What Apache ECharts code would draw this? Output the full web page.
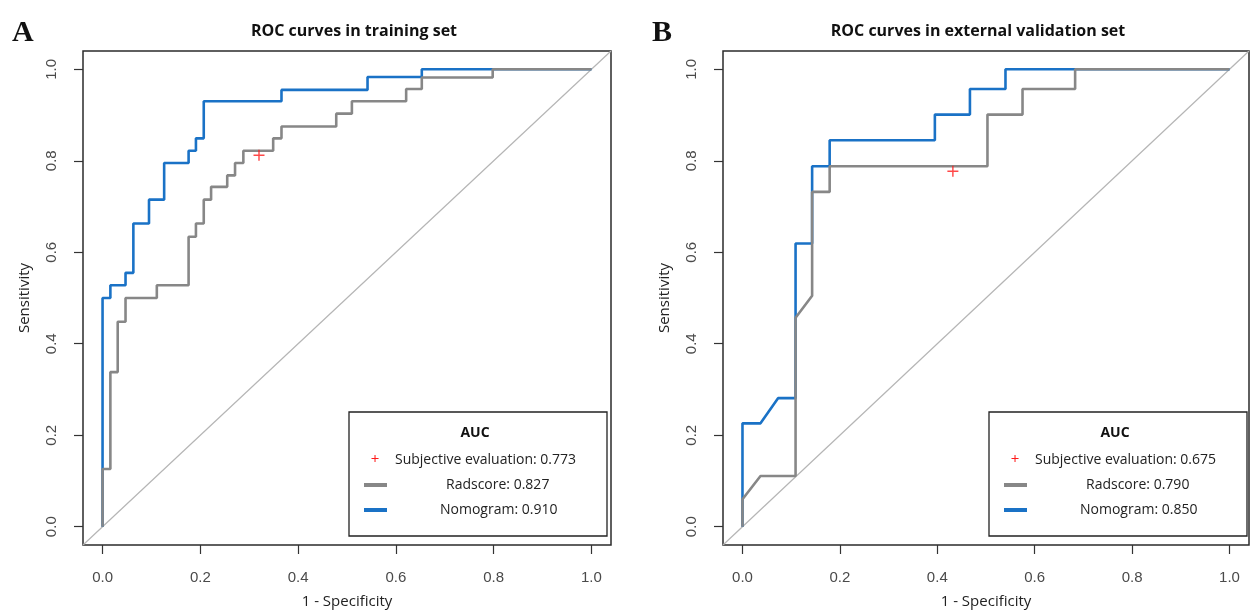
<!DOCTYPE html>
<html>
<head>
<meta charset="utf-8">
<script src="https://cdn.jsdelivr.net/npm/echarts@6/dist/echarts.min.js"></script>
<style>
html,body{margin:0;padding:0;background:#fff;}
#c{width:1250px;height:611px;}
</style>
</head>
<body>
<div id="c"></div>
<script>
// ---------- DATA ----------
const tickLabels = ["0.0", "0.2", "0.4", "0.6", "0.8", "1.0"];
const panelLetters = ["A", "B"];
const panelTitles = ["ROC curves in training set", "ROC curves in external validation set"];
const xAxisTitle = "1 - Specificity";
const yAxisTitle = "Sensitivity";
const seriesNames = ["Subjective evaluation", "Radscore", "Nomogram"];

// Panel A (training set): ROC vertices (1 - specificity, sensitivity)
const trainNomogramFpr = [0, 0, 0.016, 0.016, 0.047, 0.047, 0.063, 0.063, 0.095, 0.095, 0.126, 0.126, 0.176, 0.176, 0.191, 0.191, 0.207, 0.207, 0.366, 0.366, 0.542, 0.542, 0.653, 0.653, 1];
const trainNomogramTpr = [0, 0.500, 0.500, 0.528, 0.528, 0.555, 0.555, 0.663, 0.663, 0.715, 0.715, 0.795, 0.795, 0.822, 0.822, 0.849, 0.849, 0.930, 0.930, 0.955, 0.955, 0.983, 0.983, 1, 1];
const trainRadscoreFpr = [0, 0, 0.016, 0.016, 0.031, 0.031, 0.047, 0.047, 0.111, 0.111, 0.176, 0.176, 0.191, 0.191, 0.207, 0.207, 0.222, 0.222, 0.255, 0.255, 0.271, 0.271, 0.288, 0.288, 0.349, 0.349, 0.366, 0.366, 0.478, 0.478, 0.510, 0.510, 0.621, 0.621, 0.653, 0.653, 0.798, 0.798, 1];
const trainRadscoreTpr = [0, 0.126, 0.126, 0.338, 0.338, 0.448, 0.448, 0.500, 0.500, 0.528, 0.528, 0.634, 0.634, 0.663, 0.663, 0.715, 0.715, 0.743, 0.743, 0.768, 0.768, 0.795, 0.795, 0.822, 0.822, 0.849, 0.849, 0.875, 0.875, 0.903, 0.903, 0.930, 0.930, 0.957, 0.957, 0.982, 0.982, 1, 1];
const trainSubjective = [0.320, 0.812];
const trainAUC = ["0.773", "0.827", "0.910"];

// Panel B (external validation set)
const valNomogramFpr = [0, 0, 0.037, 0.073, 0.109, 0.109, 0.143, 0.143, 0.179, 0.179, 0.395, 0.395, 0.467, 0.467, 0.540, 0.540, 1];
const valNomogramTpr = [0, 0.226, 0.226, 0.281, 0.281, 0.619, 0.619, 0.788, 0.788, 0.845, 0.845, 0.901, 0.901, 0.957, 0.957, 1, 1];
const valRadscoreFpr = [0, 0, 0.037, 0.109, 0.109, 0.143, 0.143, 0.179, 0.179, 0.503, 0.503, 0.575, 0.575, 0.683, 0.683, 1];
const valRadscoreTpr = [0, 0.060, 0.111, 0.111, 0.457, 0.505, 0.732, 0.732, 0.788, 0.788, 0.901, 0.901, 0.957, 0.957, 1, 1];
const valSubjective = [0.432, 0.777];
const valAUC = ["0.675", "0.790", "0.850"];

// ---------- STYLE / LAYOUT ----------
const BLUE = "#1a72c6", GRAY = "#878787", RED = "#ff1a1a", DIAG = "#b5b5b5";
const EXP = 0.04; // R axis expansion
const tickValues = tickLabels.map(Number);
const boxes = [
  {left: 83, top: 51, width: 528, height: 494, titleX: 349},
  {left: 723, top: 51, width: 526, height: 494, titleX: 973}
];
const sansFont = "'Open Sans', 'Noto Sans', sans-serif";
const tickFont = "'Liberation Sans', Arial, sans-serif";

function zip(a, b) { return a.map((v, i) => [v, b[i]]); }
function fmt(v) {
  let best = 0;
  tickValues.forEach((t, i) => { if (Math.abs(t - v) < Math.abs(tickValues[best] - v)) best = i; });
  return tickLabels[best];
}

const grids = [], xAxes = [], yAxes = [], series = [], titles = [], graphics = [];
const panels = [
  {nomo: zip(trainNomogramFpr, trainNomogramTpr), rad: zip(trainRadscoreFpr, trainRadscoreTpr), subj: trainSubjective, auc: trainAUC},
  {nomo: zip(valNomogramFpr, valNomogramTpr), rad: zip(valRadscoreFpr, valRadscoreTpr), subj: valSubjective, auc: valAUC}
];
const plusPath = 'path://M4.35,0H5.65V4.35H10V5.65H5.65V10H4.35V5.65H0V4.35H4.35Z';

panels.forEach((p, k) => {
  const b = boxes[k];
  grids.push({left: b.left, top: b.top, width: b.width, height: b.height, show: true,
    borderColor: '#2b2b2b', borderWidth: 1.5, backgroundColor: 'transparent', containLabel: false, outerBoundsMode: 'none'});
  xAxes.push({gridIndex: k, type: 'value', min: -EXP, max: 1 + EXP, position: 'bottom',
    axisLine: {show: false, onZero: false}, splitLine: {show: false},
    axisTick: {show: true, length: 9, customValues: tickValues, lineStyle: {color: '#333', width: 1.2}},
    axisLabel: {margin: 25, fontSize: 15, color: '#4a4a4a', fontFamily: tickFont, customValues: tickValues,
      formatter: fmt},
    name: xAxisTitle, nameLocation: 'middle', nameGap: 49,
    nameTextStyle: {fontSize: 15, color: '#222', fontFamily: sansFont}});
  yAxes.push({gridIndex: k, type: 'value', min: -EXP, max: 1 + EXP, position: 'left',
    axisLine: {show: false, onZero: false}, splitLine: {show: false},
    axisTick: {show: true, length: 9, customValues: tickValues, lineStyle: {color: '#333', width: 1.2}},
    axisLabel: {margin: 24, fontSize: 15, color: '#4a4a4a', fontFamily: tickFont, rotate: 90, customValues: tickValues,
      formatter: fmt},
    name: yAxisTitle, nameLocation: 'middle', nameGap: 51, nameRotate: 90,
    nameTextStyle: {fontSize: 15, color: '#222', fontFamily: sansFont}});
  series.push({type: 'line', xAxisIndex: k, yAxisIndex: k, data: [[-EXP, -EXP], [1 + EXP, 1 + EXP]],
    symbol: 'none', lineStyle: {color: DIAG, width: 1.2}, silent: true, z: 1, animation: false});
  series.push({type: 'line', name: seriesNames[2], xAxisIndex: k, yAxisIndex: k, data: p.nomo,
    symbol: 'none', lineStyle: {color: BLUE, width: 2.6}, z: 2, animation: false});
  series.push({type: 'line', name: seriesNames[1], xAxisIndex: k, yAxisIndex: k, data: p.rad,
    symbol: 'none', lineStyle: {color: GRAY, width: 2.6}, z: 3, animation: false});
  series.push({type: 'scatter', name: seriesNames[0], xAxisIndex: k, yAxisIndex: k, data: [p.subj],
    symbol: plusPath, symbolSize: 11, itemStyle: {color: RED}, z: 4, animation: false});

  titles.push({text: panelTitles[k], left: b.titleX, top: 18, textAlign: 'center',
    textStyle: {fontSize: 16, fontWeight: 'bold', color: '#111', fontFamily: sansFont}});
  titles.push({text: panelLetters[k], left: b.left - 76, top: 13,
    textStyle: {fontSize: 30, fontWeight: 'bold', color: '#111', fontFamily: "'Liberation Serif', 'DejaVu Serif', serif"}});

  // legend box (bottom-right)
  const lx = b.left + 266, ly = 412, lw = 258, lh = 124;
  graphics.push({type: 'rect', shape: {x: lx, y: ly, width: lw, height: lh}, z: 100,
    style: {fill: '#fff', stroke: '#222', lineWidth: 1.3}});
  graphics.push({type: 'text', x: lx + 126, y: ly + 21, z: 101,
    style: {text: 'AUC', fill: '#111', font: "bold 14px " + sansFont, textAlign: 'center', textVerticalAlign: 'middle'}});
  graphics.push({type: 'text', x: lx + 26, y: ly + 48, z: 101,
    style: {text: '+', fill: RED, font: "15px " + sansFont, textAlign: 'center', textVerticalAlign: 'middle'}});
  graphics.push({type: 'text', x: lx + 46, y: ly + 48, z: 101,
    style: {text: seriesNames[0] + ': ' + p.auc[0], fill: '#222', font: "14px " + sansFont, textAlign: 'left', textVerticalAlign: 'middle'}});
  graphics.push({type: 'line', shape: {x1: lx + 15, y1: ly + 73, x2: lx + 38, y2: ly + 73}, z: 101,
    style: {stroke: GRAY, lineWidth: 4}});
  graphics.push({type: 'text', x: lx + 97, y: ly + 73, z: 101,
    style: {text: seriesNames[1] + ': ' + p.auc[1], fill: '#222', font: "14px " + sansFont, textAlign: 'left', textVerticalAlign: 'middle'}});
  graphics.push({type: 'line', shape: {x1: lx + 15, y1: ly + 98, x2: lx + 38, y2: ly + 98}, z: 101,
    style: {stroke: BLUE, lineWidth: 4}});
  graphics.push({type: 'text', x: lx + 91, y: ly + 98, z: 101,
    style: {text: seriesNames[2] + ': ' + p.auc[2], fill: '#222', font: "14px " + sansFont, textAlign: 'left', textVerticalAlign: 'middle'}});
});

const chart = echarts.init(document.getElementById('c'), null, {renderer: 'canvas'});
chart.setOption({
  animation: false,
  backgroundColor: '#fff',
  title: titles,
  grid: grids,
  xAxis: xAxes,
  yAxis: yAxes,
  series: series,
  graphic: graphics,
  tooltip: {show: false}
});
</script>
</body>
</html>
